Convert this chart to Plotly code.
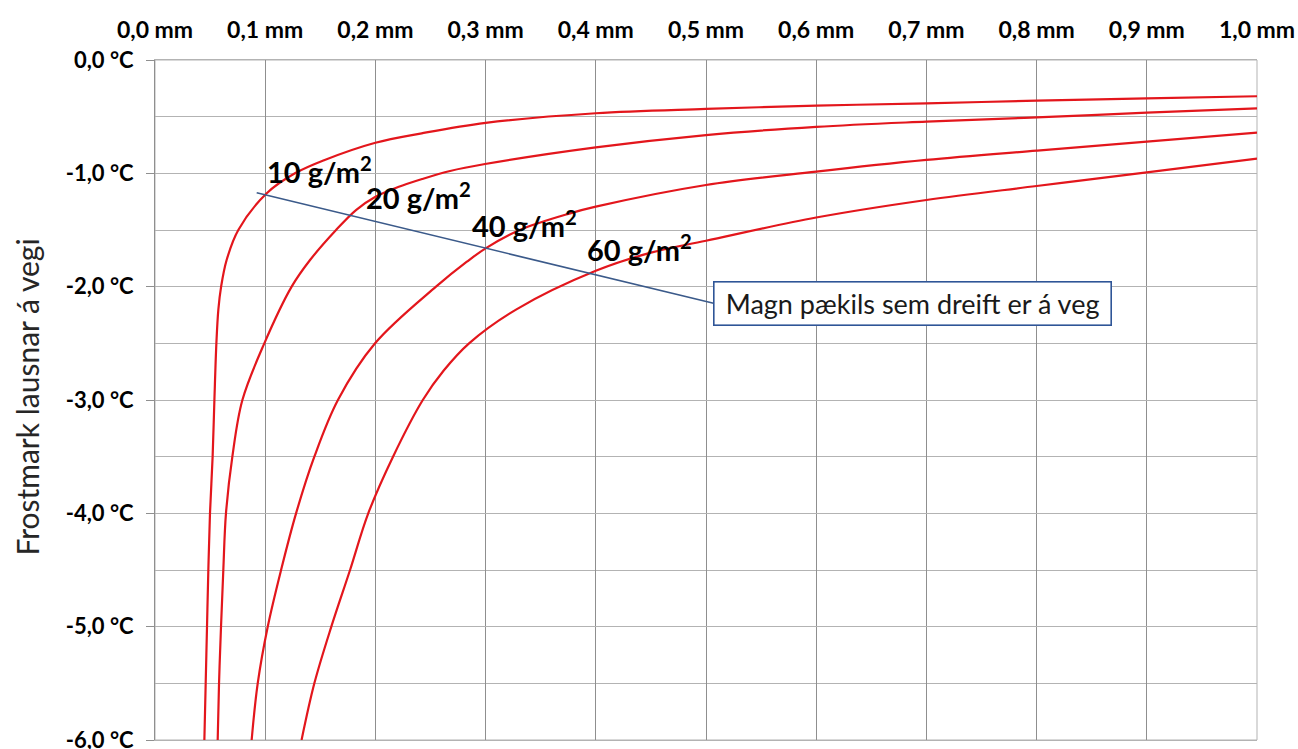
import plotly.graph_objects as go

# Brine film thickness (mm) and resulting freezing point (°C) for each salt dose
dose_labels = ["10 g/m<sup>2</sup>", "20 g/m<sup>2</sup>", "40 g/m<sup>2</sup>", "60 g/m<sup>2</sup>"]

thick_10 = [0.0448, 0.0460, 0.0472, 0.0484, 0.0499, 0.0523, 0.0539, 0.0557, 0.0575, 0.0600,
            0.0650, 0.0756, 0.1014, 0.127, 0.154, 0.200, 0.242, 0.300, 0.400, 0.500,
            0.600, 0.700, 0.800, 0.900, 1.000]
temp_10 = [-6.0, -5.5, -5.0, -4.5, -4.0, -3.5, -3.0, -2.5, -2.2, -2.0,
           -1.765, -1.5, -1.176, -1.0, -0.882, -0.73, -0.647, -0.555, -0.47, -0.432,
           -0.403, -0.382, -0.359, -0.338, -0.32]

thick_20 = [0.0569, 0.0581, 0.0599, 0.0620, 0.0644, 0.0702, 0.0793, 0.0992, 0.124, 0.1407,
            0.1643, 0.1824, 0.1997, 0.2206, 0.2424, 0.2678, 0.2995, 0.400, 0.500, 0.600,
            0.700, 0.800, 0.900, 1.000]
temp_20 = [-6.0, -5.5, -5.0, -4.5, -4.0, -3.5, -3.0, -2.5, -2.0, -1.765,
           -1.5, -1.324, -1.209, -1.121, -1.05, -0.979, -0.918, -0.771, -0.662, -0.59,
           -0.544, -0.506, -0.465, -0.427]

thick_40 = [0.0877, 0.0932, 0.1023, 0.1144, 0.128, 0.1446, 0.166, 0.1997, 0.255, 0.283,
            0.300, 0.331, 0.3767, 0.400, 0.500, 0.600, 0.700, 0.800, 0.900, 1.000]
temp_40 = [-6.0, -5.5, -5.0, -4.5, -4.0, -3.5, -3.0, -2.5, -2.0, -1.78,
           -1.662, -1.5, -1.353, -1.294, -1.103, -0.985, -0.882, -0.80, -0.721, -0.641]

thick_60 = [0.133, 0.1446, 0.160, 0.177, 0.1935, 0.216, 0.243, 0.262, 0.285, 0.328,
            0.400, 0.450, 0.500, 0.600, 0.700, 0.800, 0.900, 1.000]
temp_60 = [-6.0, -5.5, -5.0, -4.5, -4.0, -3.5, -3.0, -2.74, -2.5, -2.2,
           -1.86, -1.70, -1.595, -1.39, -1.235, -1.112, -0.991, -0.871]

# Dose labels placed next to each curve (left edge, vertical centre)
label_x = [0.100, 0.190, 0.286, 0.390]
label_y = [-0.97, -1.20, -1.45, -1.66]

# Axis ticks
x_tick_vals = [0.0, 0.1, 0.2, 0.3, 0.4, 0.5, 0.6, 0.7, 0.8, 0.9, 1.0]
x_tick_text = ["0,0 mm", "0,1 mm", "0,2 mm", "0,3 mm", "0,4 mm", "0,5 mm",
               "0,6 mm", "0,7 mm", "0,8 mm", "0,9 mm", "1,0 mm"]
y_tick_vals = [0, -1, -2, -3, -4, -5, -6]
y_tick_text = ["0,0 °C", "-1,0 °C", "-2,0 °C", "-3,0 °C", "-4,0 °C", "-5,0 °C", "-6,0 °C"]

# Callout: leader line start/end and box text
callout_text = "Magn pækils sem dreift er á veg"
leader_x = [0.0923, 0.5068]
leader_y = [-1.171, -2.147]

FONT = "Lato"
RED = "#e3161c"
BLUE = "#3b5a8a"
GRID_V = "#8f8f8f"
GRID_H = "#b3b3b3"

fig = go.Figure()

for xs, ys in [(thick_10, temp_10), (thick_20, temp_20), (thick_40, temp_40), (thick_60, temp_60)]:
    fig.add_trace(go.Scatter(
        x=xs, y=ys, mode="lines",
        line=dict(color=RED, width=2.2, shape="spline", smoothing=1.0),
        hoverinfo="skip", showlegend=False,
    ))

# Leader line to the callout box
fig.add_trace(go.Scatter(
    x=leader_x, y=leader_y, mode="lines",
    line=dict(color=BLUE, width=1.6),
    hoverinfo="skip", showlegend=False,
))

for txt, lx, ly in zip(dose_labels, label_x, label_y):
    fig.add_annotation(
        x=lx, y=ly, xref="x", yref="y", text=f"<b>{txt}</b>",
        showarrow=False, xanchor="left", yanchor="middle",
        font=dict(family=FONT, size=29, color="#000000"),
    )

fig.add_annotation(
    x=leader_x[1], y=leader_y[1], xref="x", yref="y", text=callout_text,
    showarrow=False, xanchor="left", yanchor="middle",
    width=396, height=42, borderpad=0,
    bgcolor="#ffffff", bordercolor="#2f5597", borderwidth=1.6,
    font=dict(family=FONT, size=27, color="#1a1a1a"),
)

# Y axis title
fig.add_annotation(
    x=-0.116, y=0.504, xref="paper", yref="paper",
    text="Frostmark lausnar á vegi", textangle=-90, showarrow=False,
    xanchor="center", yanchor="middle",
    font=dict(family=FONT, size=30, color="#262626"),
)

# Frame around the plotting area
fig.add_shape(type="rect", xref="paper", yref="paper", x0=0, y0=0, x1=1, y1=1,
              line=dict(color=GRID_H, width=1), layer="below")

fig.update_xaxes(
    side="top", range=[0, 1.0], tickmode="array",
    tickvals=x_tick_vals, ticktext=x_tick_text,
    ticks="", ticklabelstandoff=12,
    tickfont=dict(family=FONT, size=23, color="#000000", weight="bold"),
    showgrid=True, gridcolor=GRID_V, gridwidth=1,
    showline=True, linecolor=GRID_H, linewidth=1, mirror=True,
    zeroline=False, fixedrange=True, ticklabeloverflow="allow",
    automargin=False,
)

fig.update_yaxes(
    range=[-6, 0], tickmode="array",
    tickvals=y_tick_vals, ticktext=y_tick_text,
    ticks="outside", ticklen=8, tickcolor=GRID_V, tickwidth=1,
    ticklabelstandoff=8,
    tickfont=dict(family=FONT, size=22, color="#000000", weight="bold"),
    showgrid=True, gridcolor=GRID_H, gridwidth=1,
    minor=dict(tickvals=[-0.5, -1.5, -2.5, -3.5, -4.5, -5.5], showgrid=True,
               gridcolor=GRID_H, gridwidth=1, ticks=""),
    showline=True, linecolor=GRID_V, linewidth=1, mirror=False,
    zeroline=False, fixedrange=True, ticklabeloverflow="allow",
    automargin=False,
)

fig.update_layout(
    width=1298, height=749, autosize=False,
    margin=dict(l=155, r=41, t=60, b=9),
    paper_bgcolor="#ffffff", plot_bgcolor="#ffffff",
    font=dict(family=FONT),
    showlegend=False,
)

fig.write_html("out.html")
